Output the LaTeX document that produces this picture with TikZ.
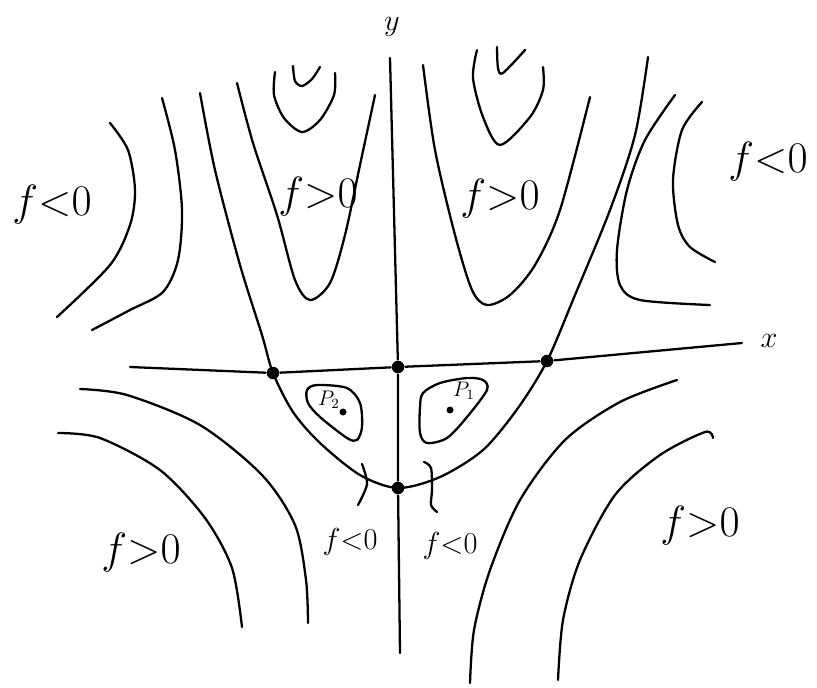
\documentclass[tikz,border=0pt]{standalone}
\begin{document}
\begin{tikzpicture}[x=0.02cm,y=-0.02cm,line width=1.3pt,line cap=round,line join=round,
  dot/.style={circle,fill=black,inner sep=0pt,minimum size=0.25cm},
  smalldot/.style={circle,fill=black,inner sep=0pt,minimum size=0.14cm},
  sign/.style={font=\Huge},
  smallsign/.style={font=\LARGE},
  axlabel/.style={font=\LARGE}]
\useasboundingbox (0,0) rectangle (817,687);
% critical points
\node[dot] (xl) at (273,373) {};
\node[dot] (o) at (398,367) {};
\node[dot] (xr) at (547,361) {};
\node[dot] (b) at (398,488) {};
\node[smalldot] (p2) at (343,412) {};
\node[smalldot] (p1) at (450,410) {};
% axes
\coordinate (xleft) at (130,367);
\coordinate (xright) at (742,343);
\coordinate (ytop) at (390,58);
\coordinate (ybot) at (400,653);
\draw (xleft) -- (xl) -- (o) -- (xr) -- (xright);
\draw (ytop) -- (o) -- (b) -- (ybot);
\node[axlabel] (xlab) at (769,341) {$x$};
\node[axlabel] (ylab) at (392,27) {$y$};
% zero level curve through the saddles
\draw plot[smooth] coordinates {(200,93) (215,170) (240,265) (262,335) (xl.center) (293,412) (320,443) (360,475) (b.center) (440,477) (483,450) (518,408) (xr.center) (575,295) (610,210) (635,135) (648,57)};
% level curves above
\draw plot[smooth] coordinates {(110,123) (128,150) (135,190) (130,225) (110,265) (57,317)};
\draw plot[smooth] coordinates {(162,98) (175,150) (182,210) (178,260) (163,292) (130,310) (92,330)};
\draw plot[smooth] coordinates {(237,83) (253,143) (277,215) (295,280) (310,300) (330,283) (345,235) (360,165) (375,95)};
\draw plot[smooth] coordinates {(275,72) (274,95) (284,118) (302,132) (320,120) (334,95) (335,73)};
\draw plot[smooth] coordinates {(293,66) (295,81) (302,86) (312,79) (320,67)};
\draw plot[smooth] coordinates {(423,65) (435,150) (455,235) (472,290) (487,305) (510,295) (535,265) (560,210) (590,97)};
\draw plot[smooth] coordinates {(477,50) (473,78) (483,117) (500,145) (530,117) (543,90) (543,67)};
\draw plot[smooth] coordinates {(497,47) (498,68) (503,73) (525,50)};
\draw plot[smooth] coordinates {(675,95) (645,140) (627,190) (617,250) (620,285) (640,300) (710,305)};
\draw plot[smooth] coordinates {(702,102) (682,130) (673,180) (678,225) (690,247) (715,262)};
% level curves below
\draw plot[smooth] coordinates {(80,389) (127,395) (200,425) (262,475) (295,525) (306,580) (308,623)};
\draw plot[smooth] coordinates {(58,433) (100,438) (160,470) (205,518) (232,568) (242,627)};
\draw plot[smooth] coordinates {(677,380) (620,402) (565,440) (520,500) (490,570) (474,630) (470,683)};
\draw plot[smooth] coordinates {(713,438) (705,432) (660,455) (615,495) (580,560) (563,620) (558,680)};
% closed curves round the minima
\draw plot[smooth cycle] coordinates {(307,390) (317,385) (347,388) (360,403) (362,427) (357,440) (347,438) (320,417) (308,403)};
\draw plot[smooth cycle] coordinates {(423,393) (440,383) (467,378) (483,380) (487,390) (467,417) (447,438) (427,443) (420,433) (420,407)};
\node[font=\large] (p2lab) at (329,400) {$P_2$};
\node[font=\large] (p1lab) at (464,391) {$P_1$};
% ticks
\draw plot[smooth] coordinates {(362,464) (367,484) (358,505)};
\draw plot[smooth] coordinates {(424,462) (431,468) (432,490) (431,505) (437,512)};
% signs
\node[sign] (s1) at (52,205) {$f{<}0$};
\node[sign] (s2) at (318,197) {$f{>}0$};
\node[sign] (s3) at (500,199) {$f{>}0$};
\node[sign] (s4) at (768,162) {$f{<}0$};
\node[sign] (s5) at (141,553) {$f{>}0$};
\node[sign] (s6) at (700,526) {$f{>}0$};
\node[smallsign] (s7) at (350,542) {$f{<}0$};
\node[smallsign] (s8) at (450,546) {$f{<}0$};
\end{tikzpicture}
\end{document}
